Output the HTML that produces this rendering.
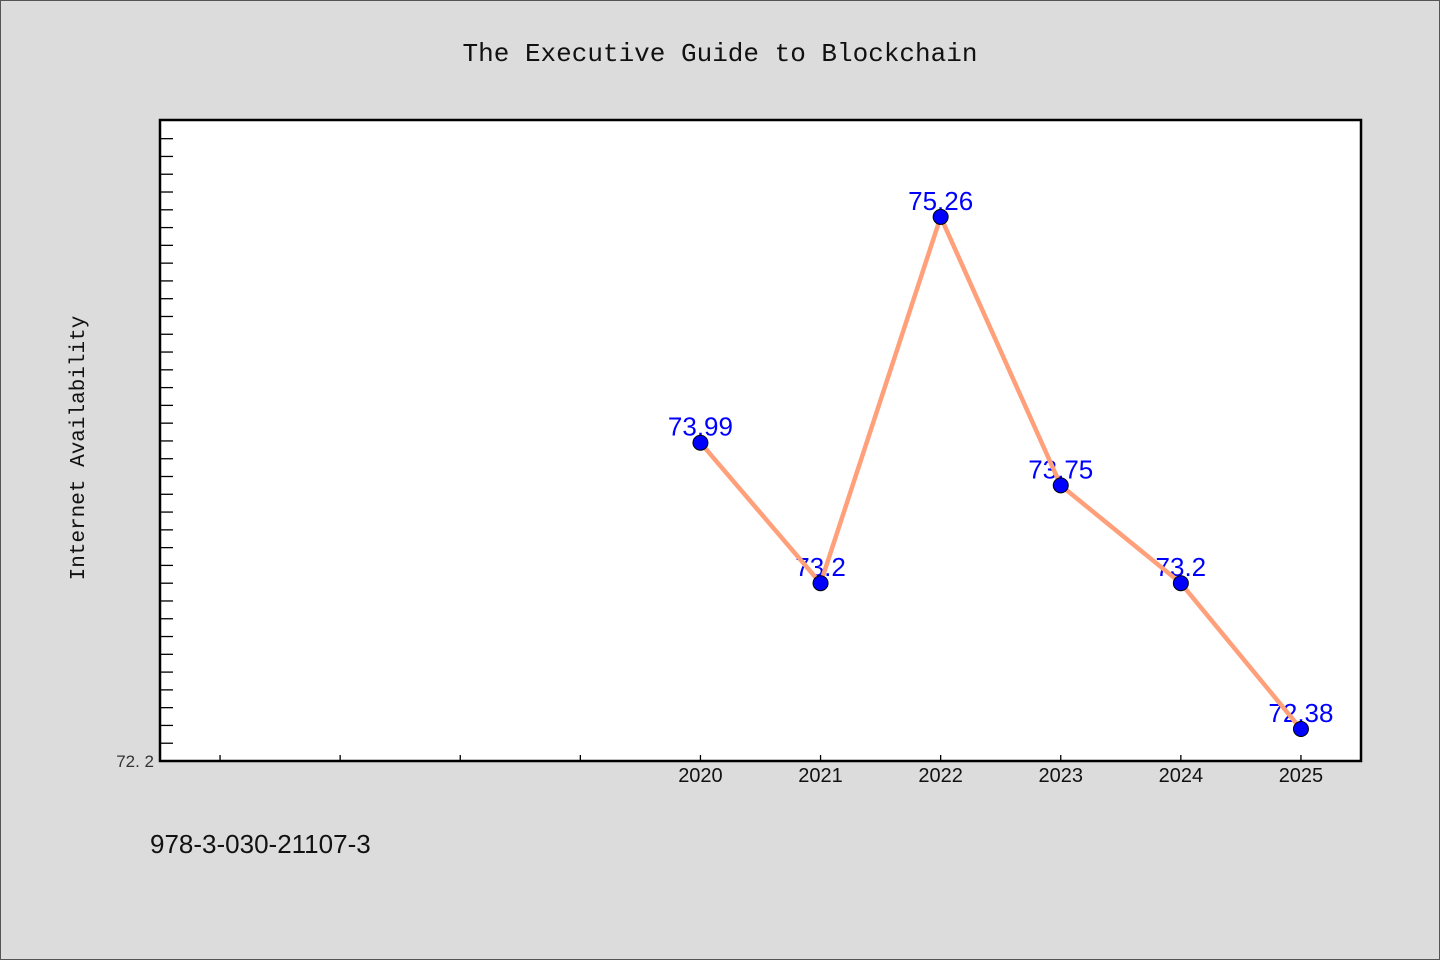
<!DOCTYPE html>
<html><head><meta charset="utf-8"><style>
body{margin:0;background:#dcdcdc}
svg{display:block;font-family:"Liberation Mono","Noto Sans CJK SC",monospace}
</style></head><body>
<svg id="chart" width="1440" height="960">
<rect x="0.5" y="0.5" width="1439" height="959" fill="#dcdcdc" stroke="#555"/>
<text x="720" y="61" text-anchor="middle" font-size="26" fill="#111">The Executive Guide to Blockchain</text>
<rect x="160" y="120" width="1201" height="641" fill="#fff" stroke="#000" stroke-width="2.5"/>
<text transform="translate(84,448) rotate(-90)" text-anchor="middle" font-size="21" fill="#111">Internet Availability</text>
<text x="150" y="853" font-size="26" fill="#111" font-family="Liberation Sans, sans-serif">978-3-030-21107-3</text>
<g id="ticks"></g><g id="series"></g>
</svg>
<script>
const years=[2020,2021,2022,2023,2024,2025];
const values=[73.99,73.2,75.26,73.75,73.2,72.38];
const yTickLabels=["72.2"];
const NS="http://www.w3.org/2000/svg";
const X0=160,X1=1361,Y0=761,Y1=120;
const xMin=2015.5,xMax=2025.5,yMin=72.2,yMax=75.805;
const sx=v=>X0+(v-xMin)/(xMax-xMin)*(X1-X0);
const sy=v=>Y0-(v-yMin)/(yMax-yMin)*(Y0-Y1);
function mk(t,a,p){const e=document.createElementNS(NS,t);for(const k in a)e.setAttribute(k,a[k]);p.appendChild(e);return e;}
const tg=document.getElementById('ticks'),sg=document.getElementById('series');
for(let i=1;i<36;i++){const v=yMin+i*0.1;if(v>yMax)break;
const l=mk('line',{x1:X0,x2:X0+13,y1:sy(v),y2:sy(v),stroke:'#000','stroke-width':1.3},tg);

}
yTickLabels.forEach(s=>{const t=mk('text',{x:X0-6,y:sy(+s)+6,'text-anchor':'end','font-size':17,fill:'#333','font-family':'Liberation Sans, sans-serif'},tg);t.textContent=s.replace('.','. ');

});
for(let y=2016;y<=2025;y++){const l=mk('line',{x1:sx(y),x2:sx(y),y1:Y0,y2:Y0-6,stroke:'#000','stroke-width':1.3},tg);

}
years.forEach(y=>{const t=mk('text',{x:sx(y),y:782,'text-anchor':'middle','font-size':20,fill:'#111','font-family':'Liberation Sans, sans-serif'},tg);t.textContent=y;

});
values.forEach((v,i)=>{const t=mk('text',{x:sx(years[i]),y:sy(v)-7,'text-anchor':'middle','font-size':26,fill:'#0000ff','font-family':'Liberation Sans, sans-serif'},sg);t.textContent=String(v);

});
const p=mk('polyline',{points:values.map((v,i)=>sx(years[i])+','+sy(v)).join(' '),fill:'none',stroke:'#ffa07a','stroke-width':4.5},sg);


values.forEach((v,i)=>{const c=mk('circle',{cx:sx(years[i]),cy:sy(v),r:7.5,fill:'#0000ff',stroke:'#000','stroke-width':1},sg);

});
</script>
</body></html>
